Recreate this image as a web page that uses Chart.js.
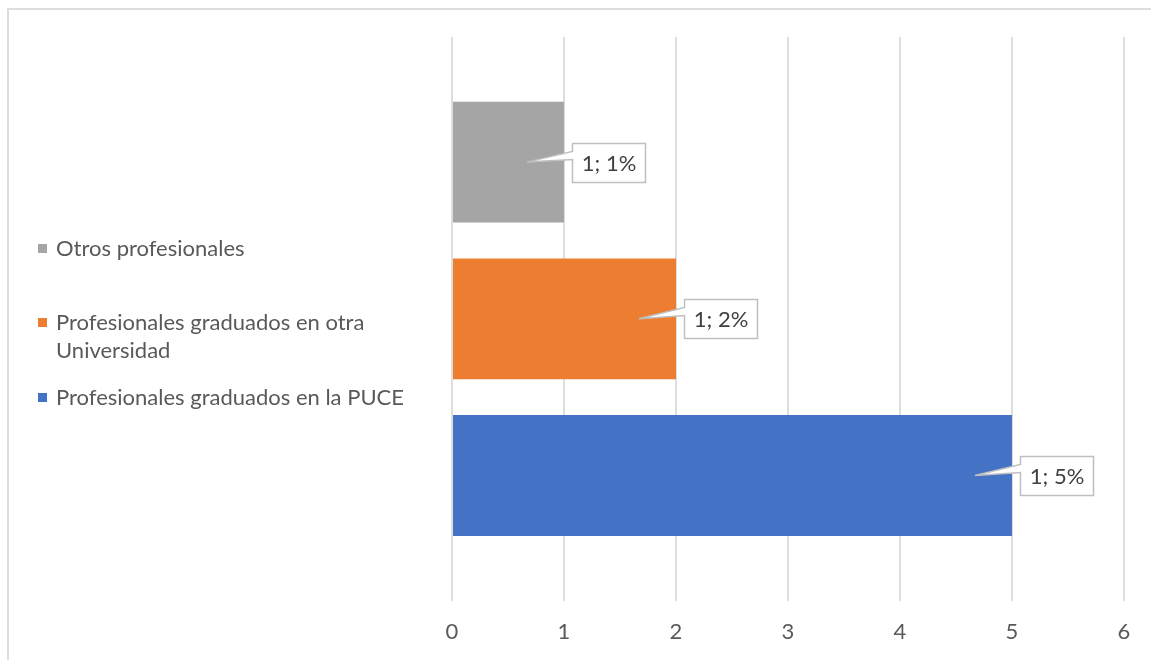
<!DOCTYPE html>
<html>
<head>
<meta charset="utf-8">
<script src="https://cdn.jsdelivr.net/npm/chart.js@4"></script>
<style>
  html, body { margin: 0; padding: 0; background: #ffffff; }
  body { width: 1151px; height: 660px; position: relative; overflow: hidden; font-family: Lato, "Noto Sans", sans-serif; }
  #frame { position: absolute; left: 7px; top: 8px; width: 1200px; height: 700px; border-left: 2px solid #DEDEDE; border-top: 2px solid #DEDEDE; }
  #c { position: absolute; left: 0; top: 0; }
  .lg { position: absolute; left: 38px; display: flex; align-items: flex-start; color: #595959; font-size: 22px; line-height: 28px; }
  .lg .sw { width: 9px; height: 9px; margin-top: 10px; margin-right: 9px; flex: none; }
  .lg .tx { max-width: 370px; }
</style>
</head>
<body>
<div id="frame"></div>
<canvas id="c" width="1151" height="677"></canvas>
<script>
// ---- data ----
const categories = [''];
const seriesNames = ['Otros profesionales', 'Profesionales graduados en otra Universidad', 'Profesionales graduados en la PUCE'];
const seriesValues = [1, 2, 5];
const seriesLabels = ['1; 1%', '1; 2%', '1; 5%'];
const seriesColors = ['#A5A5A5', '#ED7D31', '#4472C4'];
const xTicks = [0, 1, 2, 3, 4, 5, 6];
const legendTops = [234, 308, 383];

// ---- legend (HTML) ----
seriesNames.forEach((n, i) => {
  const d = document.createElement('div');
  d.className = 'lg';
  d.style.top = legendTops[i] + 'px';
  const s = document.createElement('span');
  s.className = 'sw';
  s.style.background = seriesColors[i];
  const t = document.createElement('span');
  t.className = 'tx';
  t.textContent = n;
  d.appendChild(s); d.appendChild(t);
  document.body.appendChild(d);
});

const FONT = 'Lato, "Noto Sans", sans-serif';

const calloutPlugin = {
  id: 'callouts',
  afterDatasetsDraw(chart) {
    const ctx = chart.ctx;
    ctx.save();
    ctx.font = '22px ' + FONT;
    chart.data.datasets.forEach((ds, i) => {
      const bar = chart.getDatasetMeta(i).data[0];
      const txt = seriesLabels[i];
      const endX = bar.x, cy = bar.y;
      const tw = ctx.measureText(txt).width;
      const bw = Math.round(tw + 18), bh = 39;
      const bl = Math.round(endX + 8) + 0.5;
      const top = Math.round(cy - bh / 2) + 0.5;
      const tipX = endX - 37, tipY = cy;
      ctx.beginPath();
      ctx.moveTo(bl, top);
      ctx.lineTo(bl + bw, top);
      ctx.lineTo(bl + bw, top + bh);
      ctx.lineTo(bl, top + bh);
      ctx.lineTo(bl, top + 16);
      ctx.lineTo(tipX, tipY);
      ctx.lineTo(bl, top + 8);
      ctx.closePath();
      ctx.fillStyle = '#ffffff';
      ctx.fill();
      ctx.strokeStyle = '#BFBFBF';
      ctx.lineWidth = 1.5;
      ctx.stroke();
      ctx.fillStyle = '#404040';
      ctx.textAlign = 'center';
      ctx.textBaseline = 'middle';
      ctx.fillText(txt, bl + bw / 2, top + bh / 2 + 1);
    });
    ctx.restore();
  }
};

new Chart(document.getElementById('c'), {
  type: 'bar',
  data: {
    labels: categories,
    datasets: seriesNames.map((n, i) => ({
      label: n,
      data: [seriesValues[i]],
      backgroundColor: seriesColors[i],
      borderWidth: 0,
      categoryPercentage: 0.834,
      barPercentage: 0.771
    }))
  },
  options: {
    indexAxis: 'y',
    responsive: false,
    animation: false,
    devicePixelRatio: 1,
    layout: { padding: { left: 452, right: 27, top: 37, bottom: 14 } },
    plugins: { legend: { display: false }, tooltip: { enabled: false } },
    scales: {
      x: {
        min: 0, max: 6,
        afterBuildTicks(scale) { scale.ticks = xTicks.map(v => ({ value: v })); },
        grid: { color: '#DEDEDE', lineWidth: 2, drawTicks: false },
        border: { display: false },
        ticks: { color: '#595959', font: { family: FONT, size: 22 }, padding: 18 }
      },
      y: {
        display: false,
        offset: true
      }
    }
  },
  plugins: [calloutPlugin]
});
</script>
</body>
</html>
